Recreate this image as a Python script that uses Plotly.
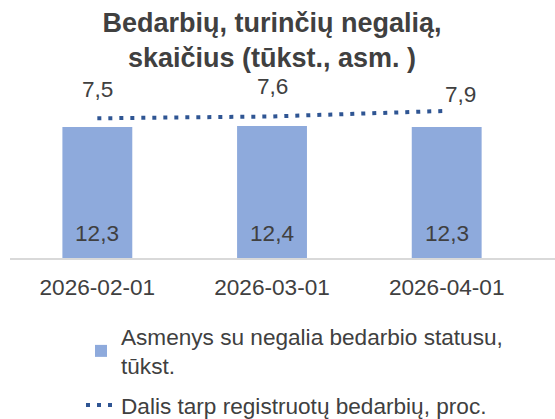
import plotly.graph_objects as go

categories = ["2026-02-01", "2026-03-01", "2026-04-01"]
persons = [12.3, 12.4, 12.3]
share = [7.5, 7.6, 7.9]
bar_name = "Asmenys su negalia bedarbio statusu,<br>tūkst."
line_name = "Dalis tarp registruotų bedarbių, proc."
title_text = "Bedarbių, turinčių negalią,<br>skaičius (tūkst., asm. )"

FONT = "Liberation Sans, Arial, sans-serif"
TXT = "#404040"
FS = 22.6

def fmt(v):
    return f"{v:.1f}".replace(".", ",")

fig = go.Figure()
fig.add_trace(go.Bar(
    x=categories, y=persons, name=bar_name, legendgroup="g1",
    marker=dict(color="#8eaadc", line=dict(width=0)),
    width=0.4, yaxis="y",
))
fig.add_trace(go.Scatter(
    x=categories, y=share, name=line_name, mode="lines", legendgroup="g2",
    line=dict(color="#2f5593", width=4, dash="4px,7px"),
    yaxis="y2",
))

annotations = []
for c, v in zip(categories, persons):
    annotations.append(dict(x=c, y=0, xref="x", yref="y", text=fmt(v),
                            showarrow=False, yshift=25,
                            font=dict(family=FONT, size=FS, color=TXT)))
xshifts = [0, 0, 14]
yshifts = [29, 30, 16]
for c, v, xs, ys in zip(categories, share, xshifts, yshifts):
    annotations.append(dict(x=c, y=v, xref="x", yref="y2", text=fmt(v),
                            showarrow=False, yshift=ys, xshift=xs,
                            font=dict(family=FONT, size=FS, color=TXT)))

fig.update_layout(
    width=555, height=419,
    margin=dict(l=10, r=0, t=109, b=161, autoexpand=False),
    paper_bgcolor="white", plot_bgcolor="white",
    font=dict(family=FONT, color=TXT),
    separators=", ",
    title=dict(text="<b>" + title_text + "</b>", x=0.49, xanchor="center",
               y=1 - 32 / 419, yanchor="top", yref="container",
               font=dict(family=FONT, size=27, color=TXT)),
    xaxis=dict(type="category", range=[-0.5, 2.62], showgrid=False,
               showline=True, linecolor="#d9d9d9", linewidth=1.5,
               ticks="outside", ticklen=8, tickcolor="rgba(0,0,0,0)",
               tickfont=dict(family=FONT, size=FS, color=TXT), zeroline=False,
               automargin=False),
    yaxis=dict(range=[0, 14], visible=False),
    yaxis2=dict(range=[0, 8], overlaying="y", side="right", visible=False),
    showlegend=True,
    legend=dict(orientation="v", x=81 / 555, xanchor="left", xref="container",
                y=1 - 315 / 419, yanchor="top", yref="container",
                font=dict(family=FONT, size=FS, color=TXT),
                tracegroupgap=7, bgcolor="rgba(0,0,0,0)"),
    annotations=annotations,
)

fig.write_html("out.html", config={"displayModeBar": False},
               post_script="document.body.style.margin='0';")
